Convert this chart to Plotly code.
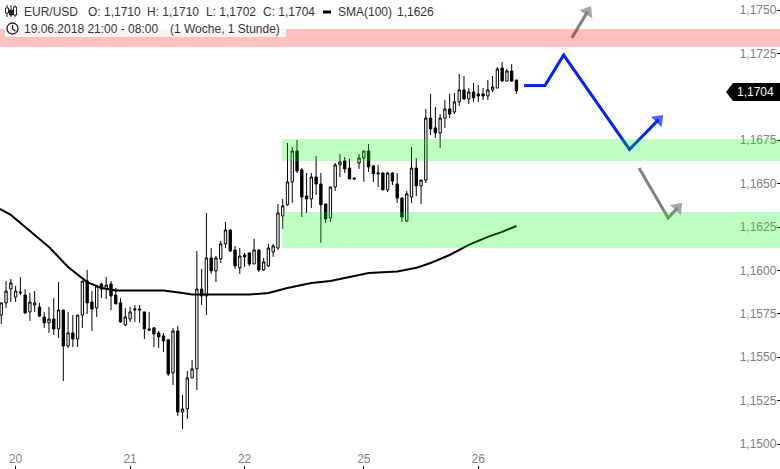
import plotly.graph_objects as go

W, H = 780, 469

opens = [1.15743,1.15813,1.15893,1.15847,1.15870,1.15858,1.15761,1.15801,1.15790,1.15732,1.15698,1.15720,1.15663,1.15772,1.15565,1.15640,1.15605,1.15743,1.15939,1.15818,1.15784,1.15922,1.15893,1.15922,1.15858,1.15813,1.15686,1.15720,1.15772,1.15778,1.15761,1.15663,1.15669,1.15640,1.15622,1.15600,1.15410,1.15651,1.15184,1.15202,1.15381,1.15433,1.15893,1.15853,1.16072,1.15997,1.16066,1.16153,1.16233,1.16118,1.16015,1.16089,1.16101,1.16037,1.16118,1.16003,1.16026,1.16106,1.16129,1.16314,1.16378,1.16510,1.16688,1.16579,1.16429,1.16412,1.16538,1.16498,1.16383,1.16302,1.16481,1.16608,1.16631,1.16590,1.16533,1.16619,1.16648,1.16688,1.16602,1.16556,1.16561,1.16464,1.16561,1.16498,1.16417,1.16285,1.16423,1.16590,1.16487,1.16521,1.16878,1.16821,1.16792,1.16878,1.16930,1.16913,1.16971,1.17040,1.16988,1.17028,1.17017,1.17017,1.17005,1.17040,1.17051,1.17166,1.17091,1.17149,1.17097]
highs = [1.15813,1.15939,1.15951,1.15910,1.15962,1.15893,1.15870,1.15881,1.15813,1.15761,1.15790,1.15841,1.15933,1.15772,1.15761,1.15743,1.15743,1.15939,1.16003,1.15881,1.15910,1.15928,1.15962,1.15939,1.15899,1.15841,1.15784,1.15790,1.15801,1.15801,1.15761,1.15761,1.15674,1.15651,1.15640,1.15605,1.15669,1.15680,1.15283,1.15421,1.15484,1.16112,1.16009,1.16331,1.16129,1.16083,1.16170,1.16279,1.16239,1.16141,1.16129,1.16101,1.16101,1.16182,1.16118,1.16072,1.16153,1.16153,1.16383,1.16412,1.16734,1.16711,1.16752,1.16590,1.16561,1.16561,1.16659,1.16561,1.16383,1.16481,1.16619,1.16671,1.16654,1.16642,1.16533,1.16671,1.16688,1.16729,1.16608,1.16608,1.16567,1.16567,1.16567,1.16561,1.16423,1.16458,1.16711,1.16648,1.16521,1.16930,1.17017,1.16942,1.16901,1.16982,1.17017,1.17022,1.17132,1.17120,1.17051,1.17080,1.17068,1.17051,1.17097,1.17120,1.17172,1.17201,1.17161,1.17189,1.17097]
lows = [1.15692,1.15784,1.15818,1.15818,1.15858,1.15749,1.15709,1.15761,1.15732,1.15669,1.15640,1.15628,1.15611,1.15363,1.15554,1.15559,1.15559,1.15669,1.15749,1.15651,1.15732,1.15841,1.15835,1.15772,1.15807,1.15698,1.15680,1.15703,1.15703,1.15698,1.15605,1.15651,1.15559,1.15554,1.15530,1.15392,1.15340,1.15161,1.15087,1.15144,1.15381,1.15311,1.15801,1.15743,1.15980,1.15933,1.16043,1.16129,1.16106,1.16009,1.15980,1.16020,1.16026,1.16037,1.15991,1.15997,1.16020,1.16078,1.16118,1.16239,1.16372,1.16389,1.16561,1.16308,1.16331,1.16360,1.16435,1.16159,1.16273,1.16279,1.16458,1.16538,1.16561,1.16527,1.16521,1.16585,1.16510,1.16567,1.16510,1.16481,1.16464,1.16452,1.16492,1.16389,1.16279,1.16279,1.16389,1.16429,1.16383,1.16504,1.16780,1.16763,1.16706,1.16821,1.16878,1.16901,1.16947,1.16982,1.16959,1.16971,1.16971,1.16982,1.16982,1.17028,1.17051,1.17086,1.17091,1.17086,1.17017]
closes = [1.15813,1.15881,1.15928,1.15881,1.15875,1.15755,1.15818,1.15813,1.15737,1.15698,1.15720,1.15663,1.15772,1.15565,1.15640,1.15605,1.15743,1.15939,1.15813,1.15778,1.15910,1.15893,1.15916,1.15853,1.15807,1.15703,1.15732,1.15761,1.15778,1.15772,1.15663,1.15657,1.15634,1.15617,1.15594,1.15404,1.15651,1.15184,1.15202,1.15381,1.15433,1.15893,1.15853,1.16072,1.15997,1.16072,1.16153,1.16233,1.16112,1.16026,1.16083,1.16078,1.16037,1.16118,1.16003,1.16049,1.16129,1.16141,1.16331,1.16372,1.16510,1.16688,1.16573,1.16423,1.16412,1.16538,1.16498,1.16378,1.16297,1.16481,1.16608,1.16625,1.16585,1.16527,1.16527,1.16648,1.16688,1.16596,1.16556,1.16561,1.16464,1.16561,1.16515,1.16417,1.16308,1.16441,1.16590,1.16487,1.16521,1.16878,1.16815,1.16792,1.16878,1.16930,1.16901,1.16971,1.17040,1.16988,1.17028,1.16994,1.17005,1.17005,1.17040,1.17057,1.17161,1.17091,1.17149,1.17091,1.17034]
candle_index = list(range(len(closes)))

sma_index = [-0.3,2,6,10,14,18,21,24,27,34,38,40,44,52,56,60,65,69,73,77,83,87,90,94,98,102,105,108]
sma_values = [1.16354,1.16320,1.16227,1.16135,1.16020,1.15933,1.15899,1.15885,1.15885,1.15885,1.15870,1.15861,1.15861,1.15861,1.15870,1.15899,1.15928,1.15939,1.15962,1.15985,1.15994,1.16015,1.16043,1.16089,1.16147,1.16193,1.16222,1.16256]

blue_index = [109.6,114,117.9,131.7,137.8]
blue_price = [1.17066,1.17066,1.17241,1.16697,1.16869]
gray_up_index = [119.6,122.9]
gray_up_price = [1.17339,1.17491]
gray_down_index = [133.7,139.8,141.8]
gray_down_price = [1.16590,1.16302,1.16361]

red_zone = (1.17391, 1.17287)
green_zones = [(1.16757, 1.16631), (1.16337, 1.16129)]
zone_start = 58.85

ytick_vals = [1.1750,1.1725,1.1675,1.1650,1.1625,1.1600,1.1575,1.1550,1.1525,1.1500]
ytick_text = ["1,1750","1,1725","1,1675","1,1650","1,1625","1,1600","1,1575","1,1550","1,1525","1,1500"]
xtick_vals = [3,27,51,76,100]
xtick_text = ["20","21","22","25","26"]
last_label = "1,1704"

FONT = "Liberation Sans"
fig = go.Figure()
fig.add_trace(go.Candlestick(
    x=candle_index, open=opens, high=highs, low=lows, close=closes,
    whiskerwidth=0,
    increasing=dict(line=dict(color="#000000", width=1), fillcolor="#ffffff"),
    decreasing=dict(line=dict(color="#000000", width=1), fillcolor="#000000"),
    hoverinfo="skip", showlegend=False))
fig.add_trace(go.Scatter(x=sma_index, y=sma_values, mode="lines",
    line=dict(color="#000000", width=2), showlegend=False, hoverinfo="skip"))


def arrow_trace(xs, ys, color, width):
    sizes = [0] * (len(xs) - 1) + [13]
    return go.Scatter(x=xs, y=ys, mode="lines+markers",
        line=dict(color=color, width=width),
        marker=dict(symbol="triangle-up", angleref="previous", size=sizes, color=color, line=dict(width=0)),
        showlegend=False, hoverinfo="skip", cliponaxis=False)

fig.add_trace(arrow_trace(blue_index, blue_price, "#0022ff", 3))
fig.add_trace(arrow_trace(gray_up_index, gray_up_price, "#808080", 3))
fig.add_trace(arrow_trace(gray_down_index, gray_down_price, "#808080", 3))

shapes = []
shapes.append(dict(type="rect", xref="paper", yref="y", x0=0, x1=1, y0=red_zone[1], y1=red_zone[0],
                   fillcolor="rgba(255,0,0,0.25)", line=dict(width=0), layer="above"))
for top, bot in green_zones:
    shapes.append(dict(type="rect", xref="x", yref="y", x0=zone_start, x1=170, y0=bot, y1=top,
                       fillcolor="rgba(0,255,0,0.25)", line=dict(width=0), layer="above"))


def px(x):
    return x / W

def py(y):
    return 1 - y / H

# translucent header backing
shapes.append(dict(type="rect", xref="paper", yref="paper", x0=px(5), x1=px(286), y0=py(37), y1=py(29),
                   fillcolor="rgba(255,255,255,0.8)", line=dict(width=0), layer="above"))
# last-price tag
tag = "M %f %f L %f %f L %f %f L %f %f L %f %f L %f %f Z" % (
    px(726), py(92), px(733), py(83), px(780), py(83), px(780), py(101), px(733), py(101), px(726), py(92))
shapes.append(dict(type="path", xref="paper", yref="paper", path=tag, fillcolor="#000000", line=dict(width=0), layer="above"))
# header icons: candle glyph
for cx, t, b, bt, bb, fill in [(7, 5, 17, 8, 13, "#ffffff"), (11, 5, 17, 10, 15, "#222222"), (15, 5, 17, 7, 15, "#ffffff")]:
    shapes.append(dict(type="line", xref="paper", yref="paper", x0=px(cx), x1=px(cx), y0=py(t), y1=py(b),
                       line=dict(color="#222222", width=1), layer="above"))
    shapes.append(dict(type="rect", xref="paper", yref="paper", x0=px(cx - 1.5), x1=px(cx + 1.5), y0=py(bb), y1=py(bt),
                       fillcolor=fill, line=dict(color="#222222", width=1), layer="above"))
# clock glyph
shapes.append(dict(type="circle", xref="paper", yref="paper", x0=px(7), x1=px(18), y0=py(34), y1=py(23),
                   fillcolor="rgba(255,255,255,0)", line=dict(color="#222222", width=1.3), layer="above"))
shapes.append(dict(type="path", xref="paper", yref="paper",
                   path="M %f %f L %f %f L %f %f" % (px(12.5), py(25), px(12.5), py(29), px(15.5), py(31)),
                   line=dict(color="#222222", width=1.2), layer="above"))
# SMA legend dash
shapes.append(dict(type="line", xref="paper", yref="paper", x0=px(323), x1=px(331), y0=py(12), y1=py(12),
                   line=dict(color="#000000", width=3), layer="above"))

annotations = []


def text(x, y, s, color="#333333"):
    annotations.append(dict(xref="paper", yref="paper", x=px(x), y=py(y), text=s, showarrow=False,
                            xanchor="left", yanchor="middle", xshift=-1, font=dict(family=FONT, size=12, color=color)))

text(23, 12, "EUR/USD")
text(87, 12, "O: 1,1710")
text(146, 12, "H: 1,1710")
text(205, 12, "L: 1,1702")
text(262, 12, "C: 1,1704")
text(337, 12, "SMA(100)")
text(396, 12, "1,1626")
text(23, 29, "19.06.2018 21:00 - 08:00")
text(169, 29, "(1 Woche, 1 Stunde)")
text(736, 92, last_label, "#ffffff")

fig.update_layout(
    width=W, height=H, margin=dict(l=0, r=0, t=0, b=0, pad=0),
    paper_bgcolor="#ffffff", plot_bgcolor="#ffffff", showlegend=False,
    shapes=shapes, annotations=annotations,
    font=dict(family=FONT, size=12, color="#808080"),
    xaxis=dict(range=[-0.27, 163.25], showgrid=False, zeroline=False, showline=False,
               rangeslider=dict(visible=False), tickmode="array", tickvals=xtick_vals, ticktext=xtick_text,
               ticks="inside", ticklen=3, tickcolor="#000000", ticklabelposition="inside",
               tickfont=dict(family=FONT, size=12, color="#808080"), fixedrange=True),
    yaxis=dict(range=[1.14856, 1.17558], side="right", showgrid=False, zeroline=False, showline=False,
               tickmode="array", tickvals=ytick_vals, ticktext=ytick_text,
               ticks="inside", ticklen=3, tickcolor="#000000", ticklabelposition="inside",
               tickfont=dict(family=FONT, size=12, color="#808080"), fixedrange=True),
)
fig.write_html("out.html", config=dict(displayModeBar=False),
               post_script="document.body.style.margin='0';document.documentElement.style.overflow='hidden';")
